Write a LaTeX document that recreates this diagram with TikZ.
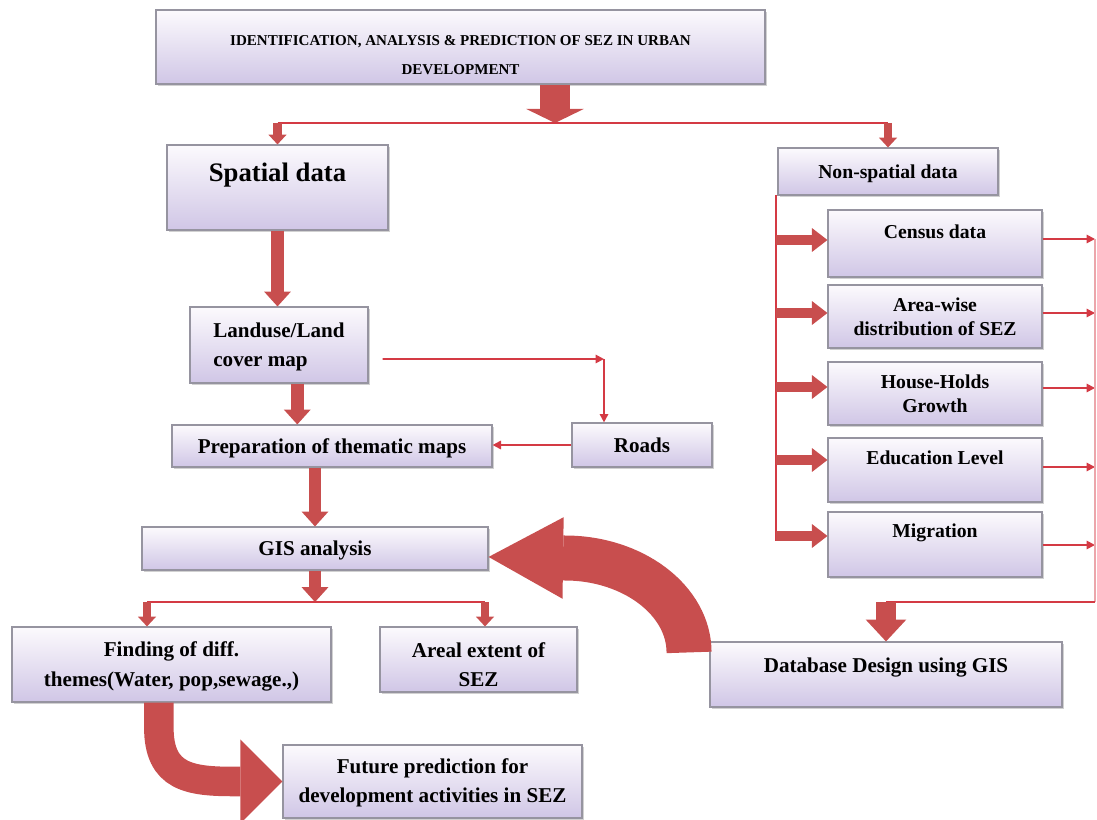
\documentclass[tikz,border=0pt]{standalone}
\usepackage{fontspec}
\setmainfont{Liberation Serif}
\usepackage{tikz}
\usetikzlibrary{arrows.meta,shadows,calc}

\definecolor{arrowred}{RGB}{200,78,78}
\definecolor{linered}{RGB}{212,58,68}
\definecolor{boxtop}{RGB}{252,250,253}
\definecolor{boxbot}{RGB}{208,198,230}
\definecolor{boxedge}{RGB}{150,148,160}

\newcommand\boxfont{\fontsize{15}{21}\selectfont\bfseries}
\newcommand\colfont{\fontsize{14}{17}\selectfont\bfseries}
\newcommand\ttlfont{\fontsize{10.7}{21.3}\selectfont\bfseries}
\newcommand\spfont{\fontsize{19}{23}\selectfont\bfseries}

\begin{document}
\begin{tikzpicture}[x=0.025cm, y=-0.025cm,
    box/.style={draw=boxedge, line width=0.8pt, top color=boxtop, bottom color=boxbot,
      drop shadow={shadow xshift=1.2pt, shadow yshift=-1.2pt, fill=gray!60, opacity=0.6},
      inner sep=0pt, align=center, text height=10pt, text depth=0pt, font=\boxfont},
    sz/.style 2 args={minimum width=#1*0.025cm, minimum height=#2*0.025cm},
    conn/.style={draw=linered, line width=1.3pt},
    tarr/.style={conn, -{Triangle[width=6pt,length=6pt]}},
    blk/.style n args={3}{draw=arrowred, line width=#1, -{Triangle[width=#2,length=#3,line width=0pt]}}]
  \useasboundingbox (0,0) rectangle (1097,820);

  % boxes
  \node[box, sz={609}{74}, font=\ttlfont, text height=39.8pt, line width=2pt] (title) at (460.5,47)
    {IDENTIFICATION, ANALYSIS \& PREDICTION OF SEZ IN URBAN\\DEVELOPMENT};
  \node[box, sz={221}{85}, font=\spfont, text height=12.6pt, text depth=20.6pt] (spatial) at (277.5,187.5) {Spatial data};
  \node[box, sz={178}{76}, align=left, text height=31pt] (landuse) at (279,345) {Landuse/Land\\cover map};
  \node[box, sz={320}{42}] (prep) at (332,446) {Preparation of thematic maps};
  \node[box, sz={140}{44}] (roads) at (642,445) {Roads};
  \node[box, sz={346}{43}] (gis) at (315,548.5) {GIS analysis};
  \node[box, sz={319}{75}, text height=31pt] (finding) at (171.5,664.5) {Finding of diff.\\themes(Water, pop,sewage.,)};
  \node[box, sz={197}{65}, text height=38.8pt] (areal) at (478.5,659.5) {Areal extent of\\SEZ};
  \node[box, sz={299}{73}, text height=30pt] (future) at (432.5,781.5) {Future prediction for\\development activities in SEZ};

  \node[box, sz={220}{47}, font=\colfont] (nonsp) at (888,171.5) {Non-spatial data};
  \node[box, sz={214}{67}, font=\colfont, text depth=17.7pt] (census) at (935,243.5) {Census data};
  \node[box, sz={214}{63}, font=\colfont, text height=27pt] (areawise) at (935,316.5) {Area-wise\\distribution of SEZ};
  \node[box, sz={214}{63}, font=\colfont, text height=27pt] (house) at (935,393.5) {House-Holds\\Growth};
  \node[box, sz={214}{64}, font=\colfont, text depth=18.4pt] (educ) at (935,470) {Education Level};
  \node[box, sz={214}{65}, font=\colfont, text depth=20.6pt] (migr) at (935,544.5) {Migration};
  \node[box, sz={352}{65}, text depth=13.5pt] (db) at (886,674.5) {Database Design using GIS};

  % top split
  \coordinate (split) at (555,123);
  \draw[blk={21pt}{41pt}{10pt}] (title.south -| split) -- (split);
  \draw[conn] (split -| spatial.north) -- (split -| nonsp.north);
  \draw[blk={5.7pt}{13pt}{7pt}] (split -| spatial.north) -- (spatial.north);
  \draw[blk={5.7pt}{13pt}{7pt}] (split -| nonsp.north) -- (nonsp.north);

  % spatial branch
  \draw[blk={9pt}{19pt}{10.5pt}] (spatial.south) -- (spatial.south |- landuse.north);
  \coordinate (lu) at ([xshift=13pt]landuse.south);
  \draw[blk={9pt}{19pt}{10.5pt}] (lu) -- (lu |- prep.north);
  \coordinate (lue) at ([xshift=10pt,yshift=-10pt]landuse.east);
  \coordinate (turn) at (604,359);
  \draw[tarr] (lue) -- (turn);
  \draw[tarr] (turn) -- (turn |- roads.north);
  \draw[tarr] (roads.west) -- (roads.west -| prep.east);
  \draw[blk={9pt}{19pt}{10.5pt}] (gis.north |- prep.south) -- (gis.north);

  % gis branch
  \coordinate (gsplit) at (gis.south |- 0,602);
  \coordinate (fl) at (147,602);
  \coordinate (fr) at (485,602);
  \draw[blk={9pt}{19pt}{10.5pt}] (gis.south) -- (gsplit);
  \draw[conn] (fl) -- (fr);
  \draw[blk={5.7pt}{13pt}{7pt}] (fl) -- (fl |- finding.north);
  \draw[blk={5.7pt}{13pt}{7pt}] (fr) -- (fr |- areal.north);
  \draw[blk={21pt}{60pt}{30pt}] ([xshift=-9pt]finding.south) -- ++(0,25)
    .. controls +(0,50) and +(-45,0) .. (235,781.5) -- (future.west);

  % non-spatial column
  \coordinate (ltop) at (776,195);
  \coordinate (lbot) at (776,541);
  \draw[conn] (ltop) -- (lbot);
  \foreach \b/\y in {census/240, areawise/313, house/387, educ/460, migr/536}
    \draw[blk={7pt}{17pt}{11pt}] (ltop |- 0,\y) -- (\b.west |- 0,\y);
  \coordinate (rtop) at (1095,239);
  \coordinate (rbot) at (1095,602);
  \foreach \b/\y in {census/239, areawise/313, house/388, educ/467, migr/545}
    \draw[tarr] (\b.east |- 0,\y) -- (rbot |- 0,\y);
  \draw[draw=linered!45, line width=1pt] (rtop) -- (rbot);
  \draw[conn] (rbot) -- (rbot -| db.north);
  \draw[blk={14pt}{29pt}{15.6pt}] (rbot -| db.north) -- (db.north);
  \draw[blk={32pt}{58pt}{53pt}] ([xshift=-14.5pt,yshift=-7.8pt]db.north west)
    .. controls +(0,-52) and +(68,0) .. (565,558) -- ([yshift=-6pt]gis.east);
\end{tikzpicture}
\end{document}
